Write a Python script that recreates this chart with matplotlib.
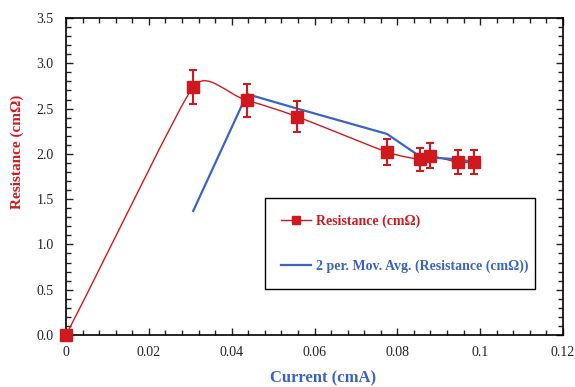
import numpy as np
import matplotlib.pyplot as plt
from matplotlib.path import Path
from matplotlib.patches import PathPatch
from matplotlib.lines import Line2D
from matplotlib.ticker import MultipleLocator, FuncFormatter

plt.rcParams['font.family'] = ['Liberation Serif', 'DejaVu Serif']

# data
current = [0, 0.0307, 0.0437, 0.0558, 0.0775, 0.0855, 0.0879, 0.0946, 0.0985]
resistance = [0, 2.74, 2.59, 2.41, 2.02, 1.94, 1.98, 1.91, 1.91]
res_err = [0, 0.19, 0.18, 0.17, 0.14, 0.13, 0.14, 0.13, 0.13]

# 2 period moving average trendline
avg_current = [0.0307, 0.0437, 0.0558, 0.0775, 0.0855, 0.0879, 0.0946, 0.0985]
mov_avg = [1.37, 2.66, 2.50, 2.22, 1.97, 1.96, 1.94, 1.91]

red = '#D0191E'
blue = '#3A63C2'


# excel style smoothed line (bezier through the points, in screen-ish units)
def smooth_path(xs, ys, sx, sy, k=1 / 3.):
    p = np.column_stack([np.asarray(xs) * sx, np.asarray(ys) * sy])
    n = len(p)
    verts = [p[0]]
    codes = [Path.MOVETO]
    for i in range(n - 1):
        p0 = p[max(i - 1, 0)]
        p1 = p[i]
        p2 = p[i + 1]
        p3 = p[min(i + 2, n - 1)]
        d01 = np.hypot(*(p1 - p0))
        d12 = np.hypot(*(p2 - p1))
        d23 = np.hypot(*(p3 - p2))
        t1 = (p2 - p0) / np.hypot(*(p2 - p0))
        t2 = (p3 - p1) / np.hypot(*(p3 - p1))
        m1 = min(d01, d12) if d01 > 0 else d12
        m2 = min(d12, d23) if d23 > 0 else d12
        c1 = p1 + t1 * m1 * k
        c2 = p2 - t2 * m2 * k
        verts += [c1, c2, p2]
        codes += [Path.CURVE4] * 3
    verts = np.array(verts) / [sx, sy]
    return Path(verts, codes)


fig = plt.figure(figsize=(5.75, 3.87), dpi=100)
ax = fig.add_axes([0.115, 0.1344, 0.864, 0.8191])
ax.set_xlim(0, 0.12)
ax.set_ylim(0, 3.5)

sx = 497 / 0.12
sy = 317 / 3.5
ax.add_patch(PathPatch(smooth_path(current, resistance, sx, sy, 0.4), fill=False,
                       edgecolor=red, lw=1.0, zorder=3))
ax.plot(avg_current, mov_avg, color=blue, lw=1.6, zorder=4)
ax.errorbar(current, resistance, yerr=res_err, fmt='s', color=red, ms=8.5,
            capsize=3, elinewidth=1.5, capthick=1.5, zorder=5, clip_on=False)

ax.xaxis.set_major_locator(MultipleLocator(0.02))
ax.xaxis.set_minor_locator(MultipleLocator(0.004))
ax.yaxis.set_major_locator(MultipleLocator(0.5))
ax.yaxis.set_minor_locator(MultipleLocator(0.1))
ax.xaxis.set_major_formatter(FuncFormatter(lambda v, p: '{:g}'.format(round(v, 4))))
ax.yaxis.set_major_formatter(FuncFormatter(lambda v, p: '{:.1f}'.format(v)))
ax.tick_params(which='both', direction='in', top=True, right=True,
               labelsize=10, colors='#222222', width=1)
ax.tick_params(which='major', length=5)
ax.tick_params(which='minor', length=3.5)
ax.tick_params(axis='x', pad=8)
ax.tick_params(axis='y', pad=9)
for s in ax.spines.values():
    s.set_linewidth(1.2)

ax.set_xlabel('Current (cmA)', color=blue, fontweight='bold', fontsize=12)
ax.set_ylabel('Resistance (cm\u03a9)', color=red, fontweight='bold', fontsize=11)
ax.xaxis.set_label_coords(0.517, -0.112)
ax.yaxis.set_label_coords(-0.085, 0.577)

handles = [Line2D([], [], color=red, lw=1.0, marker='s', ms=6),
           Line2D([], [], color=blue, lw=1.6)]
labels = ['Resistance (cm\u03a9)', '2 per. Mov. Avg. (Resistance (cm\u03a9))']
leg = ax.legend(handles, labels, loc='lower left', bbox_to_anchor=(0.386, 0.123, 0.572, 0.29),
                mode='expand', fancybox=False, edgecolor='black', framealpha=1,
                prop={'weight': 'bold', 'size': 10}, labelcolor='linecolor',
                labelspacing=2.3, borderpad=1.15, handlelength=2.2, handletextpad=0.3)
leg.get_frame().set_linewidth(1.0)

plt.savefig('out.png', dpi=100)
